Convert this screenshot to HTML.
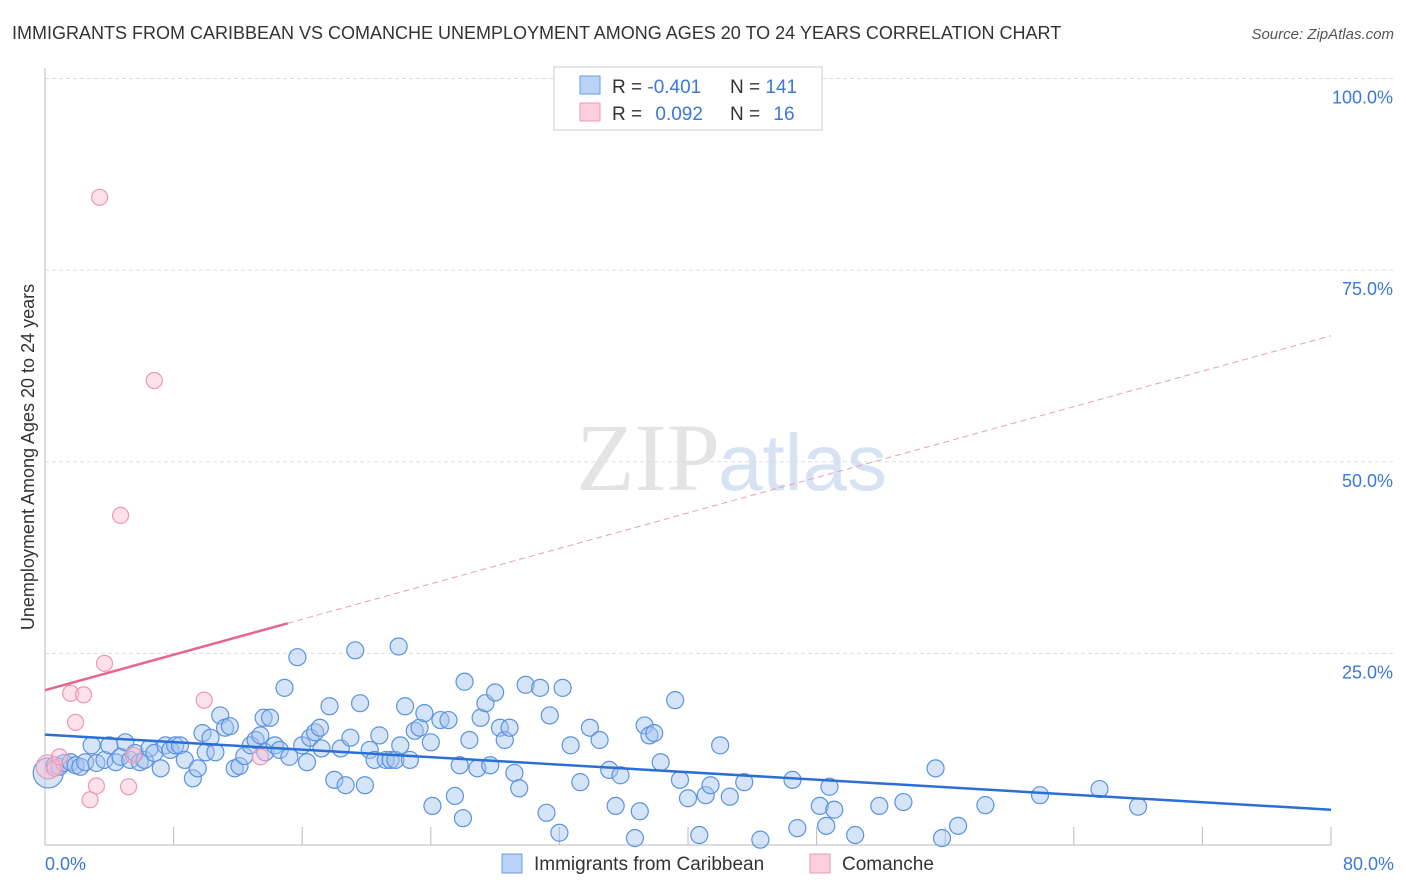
<!DOCTYPE html>
<html><head><meta charset="utf-8"><style>
body{margin:0;background:#fff;font-family:"Liberation Sans",sans-serif;}
svg{display:block}
</style></head><body>
<svg id="chart" width="1406" height="892" xmlns="http://www.w3.org/2000/svg">
<text x="12" y="39" font-size="18" fill="#333">IMMIGRANTS FROM CARIBBEAN VS COMANCHE UNEMPLOYMENT AMONG AGES 20 TO 24 YEARS CORRELATION CHART</text>
<text x="1394" y="39" font-size="15" fill="#555" font-style="italic" text-anchor="end">Source: ZipAtlas.com</text>
<text x="720" y="490" font-size="96" fill="#e4e4e4" text-anchor="end" font-family="Liberation Serif,serif">ZIP</text>
<text x="718" y="490" font-size="80" fill="#d7e3f3">atlas</text>
<g id="grid"></g>
<g id="axes"></g>
<g id="pts"></g>
<g id="trends"></g>
<text transform="translate(34,457) rotate(-90)" font-size="18" fill="#333" text-anchor="middle">Unemployment Among Ages 20 to 24 years</text>
<text x="45" y="870" font-size="18" fill="#3b78d8">0.0%</text>
<text x="1394" y="870" font-size="18" fill="#3b78d8" text-anchor="end">80.0%</text>
<g>
<rect x="554" y="67" width="268" height="63" fill="#fff" stroke="#ccc"/>
<rect x="580" y="76" width="20" height="18" fill="#b9d2f5" stroke="#6a9de6"/>
<rect x="580" y="103" width="20" height="18" fill="#fbcfdd" stroke="#ee99b4"/>
<text x="612" y="93" font-size="19" fill="#333">R = <tspan fill="#3b78d8">-0.401</tspan></text>
<text x="730" y="93" font-size="19" fill="#333">N = <tspan fill="#3b78d8">141</tspan></text>
<text x="612" y="120" font-size="19" fill="#333">R = <tspan fill="#3b78d8" dx="8">0.092</tspan></text>
<text x="730" y="120" font-size="19" fill="#333">N = <tspan fill="#3b78d8" dx="8">16</tspan></text>
</g>
<g>
<rect x="502" y="854" width="20" height="19" fill="#b9d2f5" stroke="#6a9de6"/>
<text x="534" y="870" font-size="19" fill="#333">Immigrants from Caribbean</text>
<rect x="810" y="854" width="20" height="19" fill="#fbcfdd" stroke="#ee99b4"/>
<text x="842" y="870" font-size="19" fill="#333">Comanche</text>
</g>
</svg>
<script>
const NS="http://www.w3.org/2000/svg";
const yTicks=[25,50,75,100];
const yTickLabels=["25.0%","50.0%","75.0%","100.0%"];
const xTicks=[0,8,16,24,32,40,48,56,64,72,80];
const blueX=[0.2,0.6,0.9,1.2,1.6,1.9,2.2,2.5,2.9,3.2,3.7,4.0,4.4,4.7,5.0,5.3,5.6,5.9,6.2,6.5,6.8,7.2,7.5,7.8,8.1,8.4,8.7,9.2,9.5,9.8,10.0,10.3,10.6,10.9,11.2,11.5,11.8,12.1,12.4,12.8,13.1,13.4,13.7,13.6,14.0,14.3,14.6,14.9,15.2,15.7,16.0,16.3,16.5,16.8,17.1,17.2,17.7,18.0,18.4,18.7,19.0,19.3,19.6,19.9,20.2,20.5,20.8,21.2,21.5,21.8,22.0,22.1,22.4,22.7,23.0,23.3,23.6,24.0,24.1,24.6,25.1,25.5,25.8,26.0,26.1,26.4,26.9,27.1,27.4,27.7,28.0,28.3,28.6,28.9,29.2,29.5,29.9,30.8,31.2,31.4,32.0,32.2,32.7,33.3,33.9,34.5,35.1,35.5,35.8,36.7,37.0,37.3,37.6,37.9,38.3,39.2,39.5,40.0,40.7,41.1,41.4,42.0,42.6,43.5,44.5,46.5,46.8,48.2,48.6,48.8,49.1,50.4,51.9,53.4,55.4,55.8,56.8,58.5,61.9,65.6,68.0];
const blueY=[9.4,10.4,10.2,10.7,10.8,10.4,10.2,10.8,13.0,10.7,11.1,13.0,10.8,11.5,13.4,11.1,12.0,10.8,11.1,12.6,12.0,10.0,13.0,12.4,13.0,13.0,11.1,8.7,10.0,14.6,12.1,14.0,12.1,16.9,15.3,15.5,10.0,10.3,11.6,13.0,13.7,14.3,12.1,16.6,16.6,13.0,12.4,20.5,11.5,24.5,13.0,10.8,14.0,14.7,15.3,12.6,18.1,8.5,12.6,7.8,14.0,25.4,18.5,7.8,12.4,11.1,14.3,11.1,11.1,11.1,25.9,13.0,18.1,11.1,14.9,15.3,17.2,13.4,5.1,16.3,16.3,6.4,10.4,3.5,21.3,13.7,10.0,16.6,18.5,10.4,19.9,15.3,13.7,15.3,9.4,7.4,20.9,20.5,4.2,16.9,1.6,20.5,13.0,8.2,15.3,13.7,9.8,5.1,9.1,0.9,4.4,15.6,14.3,14.6,10.8,18.9,8.5,6.1,1.3,6.5,7.8,13.0,6.3,8.2,0.7,8.5,2.2,5.1,2.5,7.6,4.6,1.3,5.1,5.6,10.0,0.9,2.5,5.2,6.5,7.3,5.0];
const pinkX=[0.2,0.6,0.9,1.6,1.9,2.4,2.8,3.2,3.7,4.7,3.4,5.2,5.5,6.8,9.9,13.4];
const pinkY=[10.2,10.0,11.5,19.8,16.0,19.6,5.9,7.7,23.7,43.0,84.5,7.6,11.7,60.6,18.9,11.5];
const blueTrend=[14.4,-0.1225];
const pinkTrend=[20.2,0.578];
const pinkSolidEnd=15.1;

const X=v=>45+v/80*1286, Y=v=>845-v*7.665;
function mk(tag,attrs,parent){const e=document.createElementNS(NS,tag);for(const k in attrs)e.setAttribute(k,attrs[k]);parent.appendChild(e);return e;}
const grid=document.getElementById('grid'),axes=document.getElementById('axes'),pts=document.getElementById('pts'),tr=document.getElementById('trends');
yTicks.forEach((t,i)=>{
  const l=mk('line',{x1:45,x2:1394,y1:Y(t),y2:Y(t),stroke:'#ddd','stroke-dasharray':'4,3'},grid);
  
  
  const tx=mk('text',{x:1393,y:Y(t)+25,'font-size':18,fill:'#3b78d8','text-anchor':'end'},grid);
  tx.textContent=yTickLabels[i];
  
  
});
const ya=mk('line',{x1:45,x2:45,y1:68,y2:845,stroke:'#bbb'},axes);


const xa=mk('line',{x1:45,x2:1331,y1:845,y2:845,stroke:'#bbb'},axes);


xTicks.forEach(t=>{
  const l=mk('line',{x1:X(t),x2:X(t),y1:827,y2:845,stroke:'#bbb'},axes);
  
  
});
blueX.forEach((x,i)=>{
  const c=mk('circle',{cx:X(x),cy:Y(blueY[i]),r:i==0?15:8.5,fill:'rgba(165,196,240,0.45)',stroke:'#5b93e0','stroke-width':1.2},pts);
  
  
});
pinkX.forEach((x,i)=>{
  const c=mk('circle',{cx:X(x),cy:Y(pinkY[i]),r:i==0?12:8,fill:'rgba(250,190,210,0.45)',stroke:'#ec98b3','stroke-width':1.2},pts);
  
  
});
const bl=mk('line',{x1:X(0),y1:Y(blueTrend[0]),x2:X(80),y2:Y(blueTrend[0]+blueTrend[1]*80),stroke:'#2a6fd6','stroke-width':2.5},tr);


const pl=mk('line',{x1:X(0),y1:Y(pinkTrend[0]),x2:X(pinkSolidEnd),y2:Y(pinkTrend[0]+pinkTrend[1]*pinkSolidEnd),stroke:'#e8658e','stroke-width':2.5},tr);


const pd=mk('line',{x1:X(pinkSolidEnd),y1:Y(pinkTrend[0]+pinkTrend[1]*pinkSolidEnd),x2:X(80),y2:Y(pinkTrend[0]+pinkTrend[1]*80),stroke:'#e8a0b8','stroke-width':1,'stroke-dasharray':'6,4'},tr);


</script>
</body></html>
